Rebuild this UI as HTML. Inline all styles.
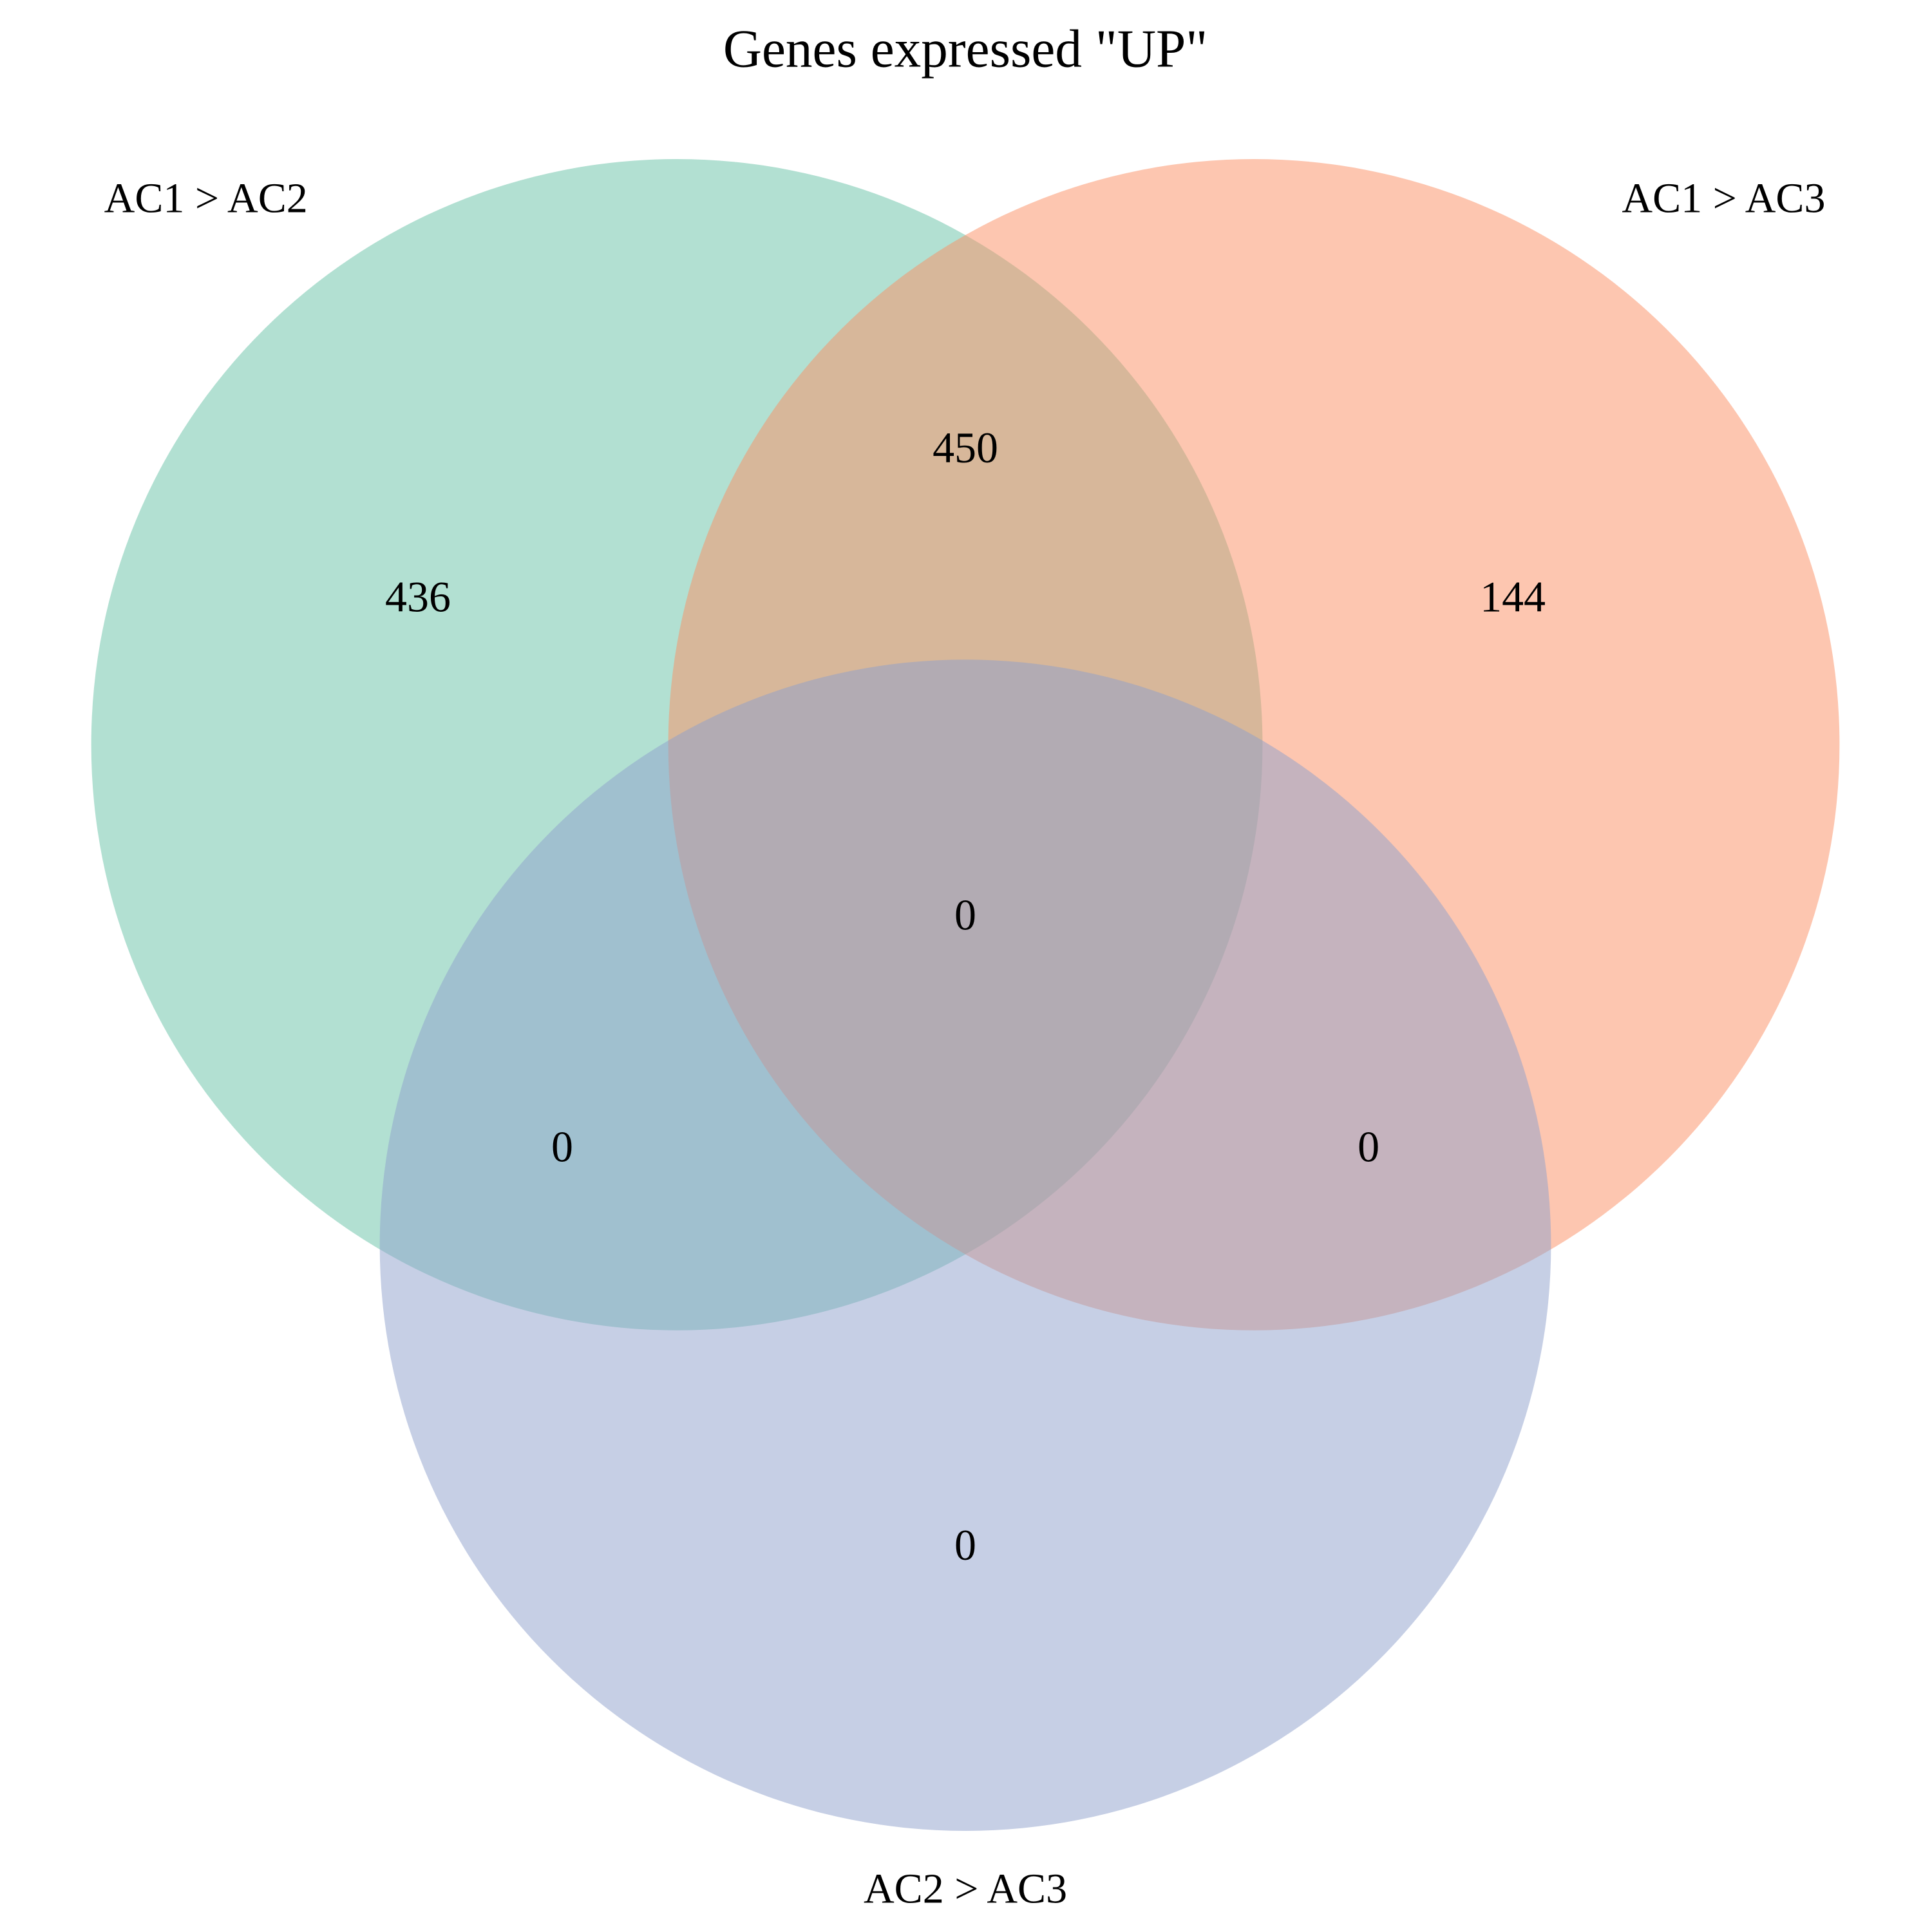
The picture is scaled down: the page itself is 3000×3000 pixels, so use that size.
<!DOCTYPE html>
<html><head><meta charset="utf-8"><style>html,body{margin:0;padding:0;background:#fff}svg{display:block}</style></head>
<body>
<svg id="venn" width="3000" height="3000" viewBox="0 0 1567 1567" xmlns="http://www.w3.org/2000/svg" font-family="'Liberation Serif', serif">
<rect width="1567" height="1567" fill="#fff"/>
<g id="circles"></g>
<g id="labels" text-anchor="middle" dominant-baseline="central" fill="#000"></g>
<text x="783" y="40" text-anchor="middle" dominant-baseline="central" font-size="43.5">Genes expressed "UP"</text>
</svg>
<script>
const setNames = ['AC1 > AC2', 'AC1 > AC3', 'AC2 > AC3'];
const setColors = ['#66C2A5', '#FC8D62', '#8DA0CB'];
const regionLabels = ['436', '144', '0', '450', '0', '0', '0'];
const regionNames = ['only-ac1-ac2', 'only-ac1-ac3', 'only-ac2-ac3', 'ac1ac2-ac1ac3', 'ac1ac2-ac2ac3', 'ac1ac3-ac2ac3', 'all-three'];
const NS = 'http://www.w3.org/2000/svg';
const R = 475;
const centers = [[549, 604], [1017, 604], [783, 1010]];
const regionPos = [[339, 484], [1227, 484], [783, 1253], [783, 363], [456, 930], [1110, 930], [783, 742]];
const setLabelPos = [[167, 161], [1398, 161], [783, 1532]];
const cg = document.getElementById('circles');
const lg = document.getElementById('labels');
setNames.forEach((n, i) => {
  const c = document.createElementNS(NS, 'circle');
  c.setAttribute('cx', centers[i][0]); c.setAttribute('cy', centers[i][1]); c.setAttribute('r', R);
  c.setAttribute('fill', setColors[i]); c.setAttribute('fill-opacity', '0.5');
  
  
  cg.appendChild(c);
  const t = document.createElementNS(NS, 'text');
  t.setAttribute('x', setLabelPos[i][0]); t.setAttribute('y', setLabelPos[i][1]);
  t.setAttribute('font-size', '34.5'); t.textContent = n;
  
  
  lg.appendChild(t);
});
regionLabels.forEach((v, i) => {
  const t = document.createElementNS(NS, 'text');
  t.setAttribute('x', regionPos[i][0]); t.setAttribute('y', regionPos[i][1]);
  t.setAttribute('font-size', '35.5'); t.textContent = v;
  
  
  lg.appendChild(t);
});
</script>
</body></html>
